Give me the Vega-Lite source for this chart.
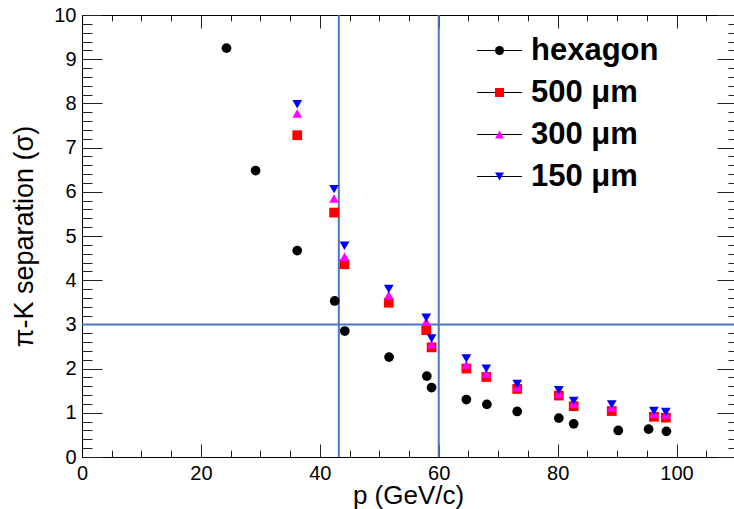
{
  "$schema": "https://vega.github.io/schema/vega-lite/v6.json",
  "width": 654,
  "height": 442,
  "autosize": {"type": "none"},
  "padding": {"left": 82, "top": 15, "right": 0, "bottom": 52},
  "background": "white",
  "datasets": {
    "points": [
      {"series": "hexagon", "p": 24.3, "sep": 9.25},
      {"series": "hexagon", "p": 29.2, "sep": 6.48},
      {"series": "hexagon", "p": 36.2, "sep": 4.67},
      {"series": "hexagon", "p": 42.5, "sep": 3.53},
      {"series": "hexagon", "p": 44.2, "sep": 2.85},
      {"series": "hexagon", "p": 51.65, "sep": 2.26},
      {"series": "hexagon", "p": 58.0, "sep": 1.83},
      {"series": "hexagon", "p": 58.8, "sep": 1.57},
      {"series": "hexagon", "p": 64.65, "sep": 1.30},
      {"series": "hexagon", "p": 68.1, "sep": 1.19},
      {"series": "hexagon", "p": 73.2, "sep": 1.03},
      {"series": "hexagon", "p": 80.2, "sep": 0.88},
      {"series": "hexagon", "p": 82.7, "sep": 0.75},
      {"series": "hexagon", "p": 90.2, "sep": 0.60},
      {"series": "hexagon", "p": 95.3, "sep": 0.63},
      {"series": "hexagon", "p": 98.3, "sep": 0.58},
      {"series": "500 μm", "p": 36.2, "sep": 7.28},
      {"series": "500 μm", "p": 42.4, "sep": 5.53},
      {"series": "500 μm", "p": 44.15, "sep": 4.36},
      {"series": "500 μm", "p": 51.6, "sep": 3.49},
      {"series": "500 μm", "p": 57.9, "sep": 2.87},
      {"series": "500 μm", "p": 58.8, "sep": 2.48},
      {"series": "500 μm", "p": 64.65, "sep": 2.0},
      {"series": "500 μm", "p": 68.0, "sep": 1.81},
      {"series": "500 μm", "p": 73.2, "sep": 1.54},
      {"series": "500 μm", "p": 80.2, "sep": 1.39},
      {"series": "500 μm", "p": 82.7, "sep": 1.15},
      {"series": "500 μm", "p": 89.1, "sep": 1.04},
      {"series": "500 μm", "p": 96.2, "sep": 0.91},
      {"series": "500 μm", "p": 98.2, "sep": 0.89},
      {"series": "300 μm", "p": 36.2, "sep": 7.77},
      {"series": "300 μm", "p": 42.4, "sep": 5.85},
      {"series": "300 μm", "p": 44.15, "sep": 4.53},
      {"series": "300 μm", "p": 51.6, "sep": 3.66},
      {"series": "300 μm", "p": 57.9, "sep": 3.06},
      {"series": "300 μm", "p": 58.8, "sep": 2.55},
      {"series": "300 μm", "p": 64.65, "sep": 2.09},
      {"series": "300 μm", "p": 68.0, "sep": 1.89},
      {"series": "300 μm", "p": 73.2, "sep": 1.58},
      {"series": "300 μm", "p": 80.2, "sep": 1.43},
      {"series": "300 μm", "p": 82.7, "sep": 1.21},
      {"series": "300 μm", "p": 89.1, "sep": 1.12},
      {"series": "300 μm", "p": 96.2, "sep": 0.98},
      {"series": "300 μm", "p": 98.2, "sep": 0.96},
      {"series": "150 μm", "p": 36.2, "sep": 7.98},
      {"series": "150 μm", "p": 42.4, "sep": 6.06},
      {"series": "150 μm", "p": 44.15, "sep": 4.78},
      {"series": "150 μm", "p": 51.6, "sep": 3.80},
      {"series": "150 μm", "p": 57.9, "sep": 3.15},
      {"series": "150 μm", "p": 58.8, "sep": 2.68},
      {"series": "150 μm", "p": 64.65, "sep": 2.23},
      {"series": "150 μm", "p": 68.0, "sep": 2.0},
      {"series": "150 μm", "p": 73.2, "sep": 1.65},
      {"series": "150 μm", "p": 80.2, "sep": 1.51},
      {"series": "150 μm", "p": 82.7, "sep": 1.27},
      {"series": "150 μm", "p": 89.1, "sep": 1.19},
      {"series": "150 μm", "p": 96.2, "sep": 1.04},
      {"series": "150 μm", "p": 98.2, "sep": 1.02}
    ],
    "vlines": [{"p": 43.2}, {"p": 60.0}],
    "hlines": [{"sep": 3.0}]
  },
  "config": {
    "view": {"stroke": null},
    "font": "Liberation Sans",
    "axis": {
      "grid": false,
      "domainColor": "black",
      "domainWidth": 1,
      "tickColor": "#222222",
      "tickWidth": 1,
      "labelColor": "black",
      "labelFont": "Liberation Sans",
      "labelFontSize": 20,
      "labelOverlap": false,
      "labelFlush": false,
      "labelBound": false,
      "titleColor": "black",
      "titleFont": "Liberation Sans",
      "titleFontSize": 27,
      "titleFontWeight": "normal"
    },
    "legend": {
      "orient": "none",
      "legendX": 402,
      "legendY": 20,
      "padding": 0,
      "title": null,
      "labelFont": "Liberation Sans",
      "labelFontSize": 31,
      "labelFontWeight": "bold",
      "labelColor": "black",
      "labelOffset": 16,
      "rowPadding": 10,
      "symbolSize": 81,
      "symbolStrokeWidth": 1
    }
  },
  "resolve": {"axis": {"x": "independent", "y": "independent"}},
  "layer": [
    {
      "data": {"name": "points"},
      "mark": {"type": "point", "shape": "M-5,0H5", "opacity": 0, "strokeWidth": 1},
      "encoding": {
        "stroke": {
          "field": "series",
          "type": "nominal",
          "scale": {"domain": ["hexagon", "500 μm", "300 μm", "150 μm"], "range": ["black", "black", "black", "black"]},
          "legend": {
            "orient": "none",
            "legendX": 402,
            "legendY": 20,
            "symbolType": "M-5,0H5",
            "symbolOpacity": 1,
            "symbolFillColor": "transparent",
            "symbolStrokeColor": "black",
            "labelOpacity": 0,
            "zindex": 0
          }
        }
      }
    },
    {
      "data": {"name": "points"},
      "mark": {"type": "point", "opacity": 0},
      "encoding": {
        "x": {
          "field": "p",
          "type": "quantitative",
          "scale": {"domain": [0, 110], "nice": false, "zero": false},
          "axis": {
            "orient": "bottom",
            "title": null,
            "labels": false,
            "domain": false,
            "values": [5, 10, 15, 25, 30, 35, 45, 50, 55, 65, 70, 75, 85, 90, 95, 105, 110],
            "tickSize": -7
          }
        },
        "y": {
          "field": "sep",
          "type": "quantitative",
          "scale": {"domain": [0, 10], "nice": false, "zero": false},
          "axis": {
            "orient": "left",
            "title": null,
            "labels": false,
            "domain": false,
            "values": [0.2, 0.4, 0.6, 0.8, 1.2, 1.4, 1.6, 1.8, 2.2, 2.4, 2.6, 2.8, 3.2, 3.4, 3.6, 3.8, 4.2, 4.4, 4.6, 4.8, 5.2, 5.4, 5.6, 5.8, 6.2, 6.4, 6.6, 6.8, 7.2, 7.4, 7.6, 7.8, 8.2, 8.4, 8.6, 8.8, 9.2, 9.4, 9.6, 9.8],
            "tickSize": -10
          }
        }
      }
    },
    {
      "data": {"name": "points"},
      "mark": {"type": "point", "opacity": 0},
      "encoding": {
        "x": {
          "field": "p",
          "type": "quantitative",
          "scale": {"domain": [0, 110], "nice": false, "zero": false},
          "axis": {
            "orient": "top",
            "title": null,
            "labels": false,
            "domain": false,
            "values": [5, 10, 15, 25, 30, 35, 45, 50, 55, 65, 70, 75, 85, 90, 95, 105, 110],
            "tickSize": -6
          }
        },
        "y": {
          "field": "sep",
          "type": "quantitative",
          "scale": {"domain": [0, 10], "nice": false, "zero": false},
          "axis": {
            "orient": "right",
            "title": null,
            "labels": false,
            "domain": false,
            "values": [0.2, 0.4, 0.6, 0.8, 1.2, 1.4, 1.6, 1.8, 2.2, 2.4, 2.6, 2.8, 3.2, 3.4, 3.6, 3.8, 4.2, 4.4, 4.6, 4.8, 5.2, 5.4, 5.6, 5.8, 6.2, 6.4, 6.6, 6.8, 7.2, 7.4, 7.6, 7.8, 8.2, 8.4, 8.6, 8.8, 9.2, 9.4, 9.6, 9.8],
            "tickSize": -8
          }
        }
      }
    },
    {
      "data": {"name": "vlines"},
      "mark": {"type": "rule", "color": "#4a76c6", "strokeWidth": 2},
      "encoding": {
        "x": {
          "field": "p",
          "type": "quantitative",
          "scale": {"domain": [0, 110], "nice": false, "zero": false},
          "axis": {
            "orient": "top",
            "title": null,
            "labels": false,
            "values": [0, 20, 40, 60, 80, 100],
            "tickSize": -13
          }
        }
      }
    },
    {
      "data": {"name": "hlines"},
      "mark": {"type": "rule", "color": "#4a76c6", "strokeWidth": 2},
      "encoding": {
        "y": {
          "field": "sep",
          "type": "quantitative",
          "scale": {"domain": [0, 10], "nice": false, "zero": false},
          "axis": {
            "orient": "right",
            "title": null,
            "labels": false,
            "values": [0, 1, 2, 3, 4, 5, 6, 7, 8, 9, 10],
            "tickSize": -19
          }
        }
      }
    },
    {
      "data": {"name": "points"},
      "mark": {"type": "point", "filled": true, "opacity": 1, "size": 95},
      "encoding": {
        "x": {
          "field": "p",
          "type": "quantitative",
          "scale": {"domain": [0, 110], "nice": false, "zero": false},
          "axis": {
            "orient": "bottom",
            "title": "p (GeV/c)",
            "titleFontSize": 26,
            "titleX": 326,
            "titleY": 46,
            "titleAlign": "center",
            "titleBaseline": "alphabetic",
            "values": [0, 20, 40, 60, 80, 100],
            "format": "d",
            "labelPadding": 19,
            "tickSize": -13
          }
        },
        "y": {
          "field": "sep",
          "type": "quantitative",
          "scale": {"domain": [0, 10], "nice": false, "zero": false},
          "axis": {
            "orient": "left",
            "title": "π-K separation (σ)",
            "titleX": -50,
            "titleY": 221,
            "titleAngle": -90,
            "titleAlign": "center",
            "titleBaseline": "alphabetic",
            "values": [0, 1, 2, 3, 4, 5, 6, 7, 8, 9, 10],
            "format": "d",
            "labelPadding": 26,
            "tickSize": -20
          }
        },
        "color": {
          "field": "series",
          "type": "nominal",
          "sort": null,
          "scale": {"range": ["black", "#ff0000", "#ff00ff", "#0000ff"]},
          "legend": {"orient": "none", "legendX": 402, "legendY": 20, "zindex": 1}
        },
        "shape": {
          "field": "series",
          "type": "nominal",
          "sort": null,
          "scale": {"range": ["circle", "square", "triangle-up", "triangle-down"]},
          "legend": {"orient": "none", "legendX": 402, "legendY": 20, "zindex": 1}
        }
      }
    }
  ]
}
